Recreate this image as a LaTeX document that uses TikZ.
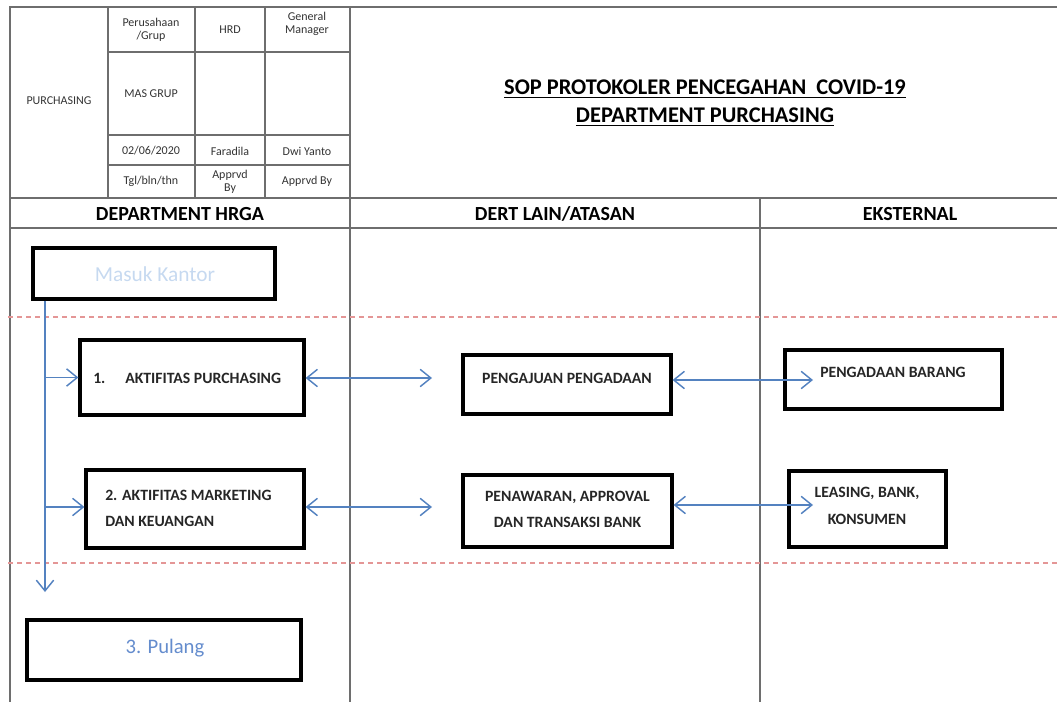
\documentclass[tikz,border=0pt]{standalone}
\usepackage{fontspec}
\setmainfont{Carlito}
\usetikzlibrary{arrows.meta}
\def\px{0.75pt}
\definecolor{framegray}{RGB}{110,110,110}
\definecolor{flowblue}{RGB}{84,130,192}
\definecolor{pale}{RGB}{198,217,240}
\definecolor{pulang}{RGB}{100,140,205}
\definecolor{sepred}{RGB}{228,150,150}

\begin{document}
\begin{tikzpicture}[x=0.75pt,y=-0.75pt,
	grid/.style={draw=framegray,line width=1.1pt},
	box/.style={draw=black,line width=2.4pt,rectangle,inner sep=0pt},
	boxtxt/.style={font=\fontsize{11.8}{20}\selectfont\bfseries,text=black!85,inner sep=0pt},
	tiny/.style={font=\fontsize{9}{10}\selectfont,text=black!80,align=center,inner sep=0pt},
	lane/.style={font=\fontsize{15}{18}\selectfont\bfseries,inner sep=0pt},
	sep/.style={draw=sepred,line width=1pt,dash pattern=on 3.75pt off 3pt},
	flow/.style={draw=flowblue,line width=1.1pt,
		arrows={-Straight Barb[length=8pt,width=13pt,line width=1.1pt]}},
	flow2/.style={flow,
		arrows={Straight Barb[length=8pt,width=13pt,line width=1.1pt]-Straight Barb[length=8pt,width=13pt,line width=1.1pt]}}]
\useasboundingbox (0,0) rectangle (1057,702);

% frame and header table
\draw[grid] (1057,7) -- (10,7) -- (10,702);
\draw[grid] (10,198) -- (1057,198);
\draw[grid] (10,228) -- (1057,228);
\foreach \x in {108,195,265}{
	\draw[grid] (\x,7) -- (\x,198);
}
\draw[grid] (350,7) -- (350,702);
\draw[grid] (760,198) -- (760,702);
\foreach \y in {52,135,165}{
	\draw[grid] (108,\y) -- (350,\y);
}

\node[tiny] (purch) at (59,101) {PURCHASING};
\node[tiny] (perus) at (151,30) {Perusahaan\\/Grup};
\node[tiny] (hrd) at (230,30) {HRD};
\node[tiny] (gm) at (307,24) {General\\Manager};
\node[tiny] (mas) at (151,94) {MAS GRUP};
\node[tiny] (tgl) at (151,151) {02/06/2020};
\node[tiny] (fara) at (230,151) {Faradila};
\node[tiny] (dwi) at (307,151) {Dwi Yanto};
\node[tiny] (tglk) at (151,181) {Tgl/bln/thn};
\node[tiny] (appr1) at (230,182) {Apprvd\\By};
\node[tiny] (appr2) at (307,181) {Apprvd By};

\node[lane,align=center,font=\fontsize{16.8}{21}\selectfont\bfseries] (title) at (705,103)
	{\underline{SOP PROTOKOLER PENCEGAHAN\ \ COVID-19}\\\underline{DEPARTMENT PURCHASING}};

% lanes
\node[lane] (hrga) at (180,214) {DEPARTMENT HRGA};
\node[lane] (dert) at (555,214) {DERT LAIN/ATASAN};
\node[lane] (eks) at (910,214) {EKSTERNAL};

\draw[sep] (8,317) -- (1057,317);
\draw[sep] (8,563) -- (1057,563);

% boxes
\node[box,minimum width={242*\px},minimum height={51*\px}] (masuk) at (154,273.5) {};
\node[font=\fontsize{16}{19}\selectfont,text=pale,inner sep=0pt] (masuktxt) at (155,274) {Masuk Kantor};

\node[box,minimum width={224*\px},minimum height={75*\px}] (akt1) at (192,377.5) {};
\node[boxtxt,anchor=west] (akt1txt) at (93,378) {\makebox[24pt][l]{1.}AKTIFITAS PURCHASING};

\node[box,minimum width={218*\px},minimum height={78*\px}] (akt2) at (195,509) {};
\node[boxtxt,anchor=west,align=left] (akt2txt) at (105,508.5) {2. AKTIFITAS MARKETING\\DAN KEUANGAN};

\node[box,minimum width={274*\px},minimum height={60*\px}] (pulang) at (164,650) {};
\node[font=\fontsize{15.5}{19}\selectfont,text=pulang,inner sep=0pt] (pulangtxt) at (165,648) {3. Pulang};

\node[box,minimum width={208*\px},minimum height={59*\px}] (ajuan) at (567,384.5) {};
\node[boxtxt] (ajuantxt) at (567,378) {PENGAJUAN PENGADAAN};

\node[box,minimum width={209*\px},minimum height={72*\px}] (tawar) at (567.5,511) {};
\node[boxtxt,align=center] (tawartxt) at (567.5,509.5) {PENAWARAN, APPROVAL\\DAN TRANSAKSI BANK};

\node[box,minimum width={217*\px},minimum height={59*\px}] (barang) at (893.5,379.5) {};
\node[boxtxt] (barangtxt) at (893,372) {PENGADAAN BARANG};

\node[box,minimum width={157*\px},minimum height={76*\px}] (leasing) at (867.5,509) {};
\node[boxtxt,align=center] (leasingtxt) at (867,506) {LEASING, BANK,\\KONSUMEN};

% connectors
\coordinate (spine) at (45,299);
\coordinate (spineend) at (45,592);
\coordinate (mid1) at (432,378);
\coordinate (mid2) at (432,507);
\coordinate (ext1) at (813,380);
\coordinate (ext2) at (813,505);

\draw[flow] (masuk.south -| spine) -- (spineend);
\draw[flow] (akt1.west -| spine) -- (akt1.west);
\draw[flow] (spine |- mid2) -- (akt2.west |- mid2);
\draw[flow2] (akt1.east |- mid1) -- (mid1);
\draw[flow2] (akt2.east |- mid2) -- (mid2);
\draw[flow2] (ajuan.east |- ext1) -- (ext1);
\draw[flow2] (tawar.east |- ext2) -- (ext2);

\end{tikzpicture}
\end{document}
